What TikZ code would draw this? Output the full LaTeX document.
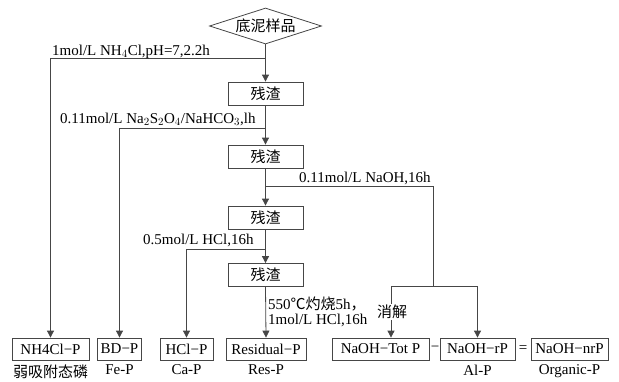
\documentclass[tikz,border=0pt]{standalone}
\usepackage{fontspec}
\setmainfont{Liberation Serif}
\newfontfamily\cjk{Noto Sans CJK SC}
\usetikzlibrary{arrows.meta,positioning,shapes.geometric}
\definecolor{lin}{RGB}{70,70,70}
\tikzset{box/.style={draw=lin,line width=0.8pt,inner sep=3pt,minimum height=22pt,font=\fontsize{15}{17}\selectfont},
  flow/.style={-{Triangle[length=7pt,width=7pt]},line width=0.8pt,lin},
  link/.style={line width=0.8pt,lin},
  labeltext/.style={font=\fontsize{15}{15}\selectfont,inner sep=0pt,align=left}}

\begin{document}
\begin{tikzpicture}[x=1pt,y=-1pt]
\useasboundingbox (0,0) rectangle (619,381);
\node[draw=lin,line width=0.8pt,diamond,aspect=3.1,inner sep=0pt,minimum width=112pt,minimum height=36pt,font=\fontsize{15}{17}\selectfont] (sample) at (265.5,26) {\cjk 底泥样品};
\foreach \i/\y in {1/93.5,2/156.5,3/217.5,4/275}
  \node[box,minimum width=75pt,minimum height=23pt] (r\i) at (265.5,\y) {\cjk 残渣};
\foreach \n/\x/\w/\t in {nh/50.5/77/NH4Cl−P,bd/119.5/43/BD−P,hcl/186.5/53/HCl−P,res/266/80/Residual−P,
    tot/380.5/97/NaOH−Tot P,rp/477.5/75/NaOH−rP,nrp/569.5/77/NaOH−nrP}
  \node[box,minimum width=\w pt] (\n) at (\x,349) {\t};
\foreach \n/\t in {nh/{\cjk 弱吸附态磷},bd/Fe-P,hcl/Ca-P,res/Res-P,rp/Al-P,nrp/Organic-P}
  \node[labeltext,below=4pt of \n] (\n-t) {\t};
\node[labeltext] (minus) at (435,349) {−};
\node[labeltext] (eq) at (523,349) {=};
\coordinate (j1) at (265.5,58);
\coordinate (j2) at (265.5,128);
\coordinate (j3) at (265.5,186);
\coordinate (j4) at (265.5,249);
\coordinate (n1) at (433,286);
\coordinate (ta) at (391,286);
\draw[flow] (sample.south) -- (r1.north);
\draw[flow] (r1.south) -- (r2.north);
\draw[flow] (r2.south) -- (r3.north);
\draw[flow] (r3.south) -- (r4.north);
\draw[flow] (r4.south) -- (res.north);
\draw[flow] (j1) -| (nh.north);
\draw[flow] (j2) -| (bd.north);
\draw[flow] (j4) -| (hcl.north);
\draw[link] (j3) -| (n1);
\draw[flow] (n1) -| (rp.north);
\draw[flow] (n1) -- (ta) -- (ta |- tot.north);
\node[labeltext,anchor=base west] (c1) at (52,55) {1mol/L NH$_4$Cl,pH=7,2.2h};
\node[labeltext,anchor=base west] (c2) at (60,123) {0.11mol/L Na$_2$S$_2$O$_4$/NaHCO$_3$,lh};
\node[labeltext,anchor=base west] (c3) at (299,182.5) {0.11mol/L NaOH,16h};
\node[labeltext,anchor=base west] (c4) at (143,244) {0.5mol/L HCl,16h};
\node[labeltext,anchor=west] (c5) at (268,312) {550{\cjk ℃灼烧}5h{\cjk ，}\\1mol/L HCl,16h};
\node[labeltext,fill=white,inner sep=1pt] (dig) at (392,312) {\cjk 消解};
\end{tikzpicture}
\end{document}
